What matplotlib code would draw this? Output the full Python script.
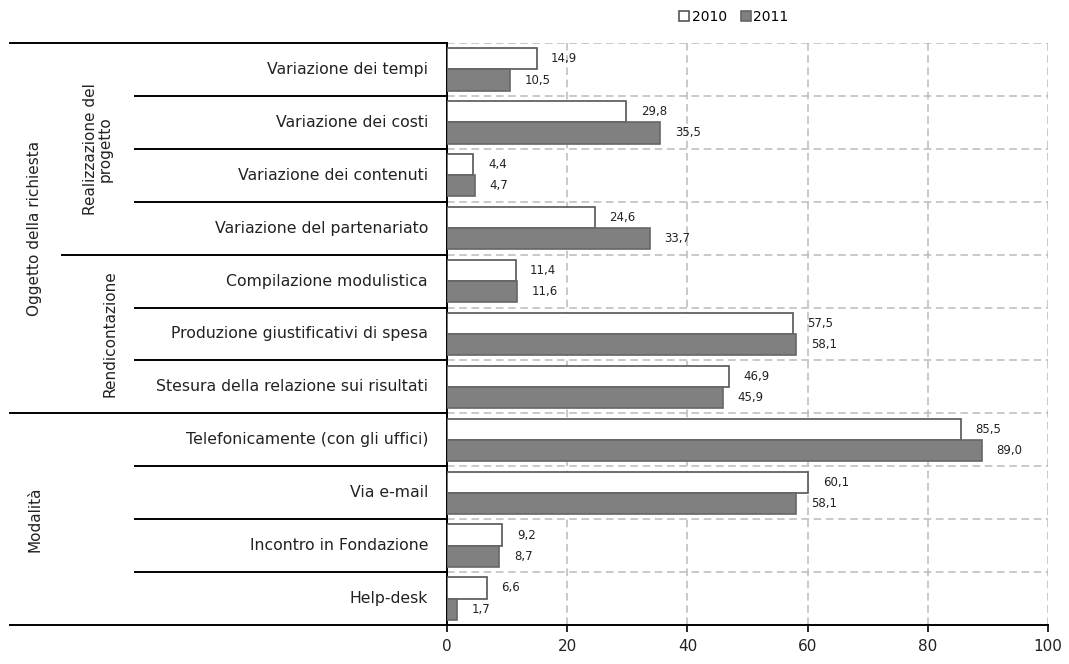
import matplotlib.pyplot as plt
import matplotlib.transforms as mtransforms
from matplotlib.patches import Patch
import numpy as np

plt.rcParams['font.family'] = ['DejaVu Sans']

# dati
categorie = ['Variazione dei tempi', 'Variazione dei costi', 'Variazione dei contenuti',
             'Variazione del partenariato', 'Compilazione modulistica',
             'Produzione giustificativi di spesa', 'Stesura della relazione sui risultati',
             'Telefonicamente (con gli uffici)', 'Via e-mail', 'Incontro in Fondazione',
             'Help-desk']
val_2010 = [14.9, 29.8, 4.4, 24.6, 11.4, 57.5, 46.9, 85.5, 60.1, 9.2, 6.6]
val_2011 = [10.5, 35.5, 4.7, 33.7, 11.6, 58.1, 45.9, 89.0, 58.1, 8.7, 1.7]
anni = ['2010', '2011']
x_ticks = [0, 20, 40, 60, 80, 100]

W, H = 1069, 664
fig = plt.figure(figsize=(W / 100, H / 100), dpi=100)
ax = fig.add_axes([447 / W, 1 - 625 / H, (1048 - 447) / W, (625 - 43) / H])

y = np.arange(len(categorie))
h = 0.4
ax.barh(y - h / 2, val_2010, height=h, color='white', edgecolor='#555555', linewidth=1.2, zorder=3)
ax.barh(y + h / 2, val_2011, height=h, color='#808080', edgecolor='#666666', linewidth=1.2, zorder=3)

def fmt(v):
    return f'{v:.1f}'.replace('.', ',')

for i in range(len(categorie)):
    ax.annotate(fmt(val_2010[i]), (val_2010[i], y[i] - h / 2), xytext=(10.5, 0),
                textcoords='offset points', va='center', ha='left', fontsize=8.5, color='#222222')
    ax.annotate(fmt(val_2011[i]), (val_2011[i], y[i] + h / 2), xytext=(10.5, 0),
                textcoords='offset points', va='center', ha='left', fontsize=8.5, color='#222222')

ax.set_xlim(0, 100)
ax.set_ylim(len(categorie) - 0.5, -0.5)
ax.set_xticks(x_ticks)
ax.set_xticklabels([str(t) for t in x_ticks], fontsize=11, color='#222222')
ax.tick_params(axis='x', direction='out', length=5, width=1.2, pad=5)
ax.set_yticks([])

# griglia tratteggiata
for xv in x_ticks[1:]:
    ax.axvline(xv, color='#bbbbbb', linestyle=(0, (5, 3)), linewidth=1.1, zorder=1)
for yb in np.arange(-0.5, len(categorie) - 0.5, 1.0):
    ax.axhline(yb, color='#bbbbbb', linestyle=(0, (5, 3)), linewidth=1.1, zorder=1)

for s in ['top', 'right']:
    ax.spines[s].set_visible(False)
ax.spines['left'].set_linewidth(1.4)
ax.spines['bottom'].set_linewidth(1.4)

# tabella a sinistra
trans = mtransforms.blended_transform_factory(fig.transFigure, ax.transData)
x_ax = 447 / W
linee = [(-0.5, 10), (10.5, 10), (6.5, 10), (3.5, 62)]
for yb in [0.5, 1.5, 2.5, 4.5, 5.5, 7.5, 8.5, 9.5]:
    linee.append((yb, 135))
for yb, x0 in linee:
    ax.plot([x0 / W, x_ax], [yb, yb], color='black', linewidth=1.4, transform=trans, clip_on=False)

for i, c in enumerate(categorie):
    ax.text(428 / W, y[i], c, transform=trans, ha='right', va='center', fontsize=11.3, color='#222222')

ax.text(35 / W, 3.0, 'Oggetto della richiesta', transform=trans, rotation=90, ha='center', va='center',
        fontsize=11, color='#222222')
ax.text(98 / W, 1.5, 'Realizzazione del\nprogetto', transform=trans, rotation=90, ha='center', va='center',
        fontsize=11, color='#222222', linespacing=1.0)
ax.text(110 / W, 5.0, 'Rendicontazione', transform=trans, rotation=90, ha='center', va='center',
        fontsize=11, color='#222222')
ax.text(35 / W, 8.5, 'Modalità', transform=trans, rotation=90, ha='center', va='center',
        fontsize=11, color='#222222')

handles = [Patch(facecolor='white', edgecolor='#555555', linewidth=1.2),
           Patch(facecolor='#808080', edgecolor='#666666', linewidth=1.2)]
fig.legend(handles, anni, loc='center', bbox_to_anchor=(734 / W, 1 - 17 / H), ncol=2, frameon=False,
           fontsize=10, handlelength=0.7, handleheight=0.7, handletextpad=0.2, columnspacing=1.0)

fig.savefig('out.png', dpi=100)
